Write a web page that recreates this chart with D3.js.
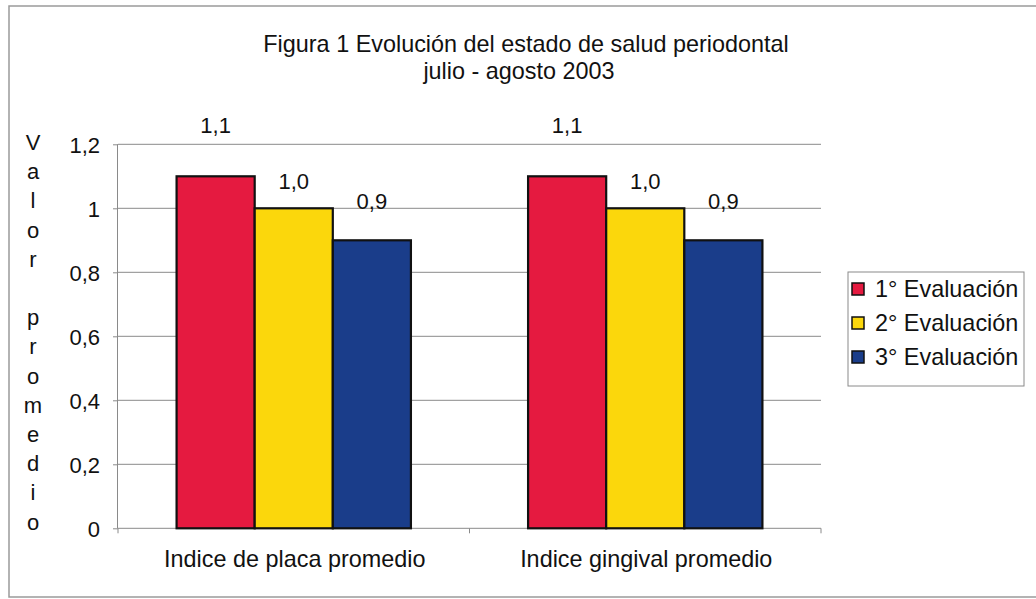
<!DOCTYPE html>
<html>
<head>
<meta charset="utf-8">
<script src="https://cdn.jsdelivr.net/npm/d3@7"></script>
<style>
	body { margin: 0; background: #fff; }
	svg { display: block; font-family: 'Liberation Sans', Arial, sans-serif; }
	.grid line { stroke: #8a8a8a; stroke-width: 1; }
	.axis path, .axis line { stroke: #8a8a8a; }
	.axis text { fill: #111; font-size: 22px; }
</style>
</head>
<body>
<svg width="1036" height="599"></svg>
<script>
// data
const categories = ['Indice de placa promedio', 'Indice gingival promedio']
const series = ['1° Evaluación', '2° Evaluación', '3° Evaluación']
const values = [
	[1.1, 1.0, 0.9],
	[1.1, 1.0, 0.9],
]
const valueLabels = [
	['1,1', '1,0', '0,9'],
	['1,1', '1,0', '0,9'],
]
const yTicks = [0, 0.2, 0.4, 0.6, 0.8, 1, 1.2]
const titleLines = ['Figura 1 Evolución del estado de salud periodontal', 'julio - agosto 2003']
const yTitle = 'Valor promedio'

// styles
const colors = ['#e51a40', '#fbd70c', '#1a3d8a']
const labelOffset = [43, 19, 31]
const bigFont = 23.4

const svg = d3.select('svg')

// frame of the scanned chart
svg.append('rect')
	.attr('x', 9).attr('y', 6)
	.attr('width', 1060).attr('height', 591)
	.attr('fill', 'none')
	.attr('stroke', '#9a9a9a')
	.attr('stroke-width', 1.5)

const margin = { left: 118, right: 821, top: 144.3, bottom: 528.3 }

const x0 = d3.scaleBand()
	.domain(categories)
	.range([margin.left, margin.right])

const gap = x0.bandwidth() / 6
const x1 = d3.scaleBand()
	.domain(series)
	.range([gap, x0.bandwidth() - gap])

const y = d3.scaleLinear()
	.domain([0, 1.2])
	.range([margin.bottom, margin.top])

// gridlines
svg.append('g')
	.attr('class', 'grid')
	.selectAll('line')
	.data(yTicks.filter(d => d > 0))
	.join('line')
		.attr('x1', margin.left)
		.attr('x2', margin.right)
		.attr('y1', d => y(d))
		.attr('y2', d => y(d))

// y axis
const fmt = d => d === 0 || d === 1 ? String(d) : d3.format('.1f')(d).replace('.', ',')
svg.append('g')
	.attr('class', 'axis axis--y')
	.attr('transform', `translate(${margin.left},0)`)
	.call(d3.axisLeft(y).tickValues(yTicks).tickFormat(fmt).tickSize(5).tickPadding(13))
	.call(g => g.select('.domain').attr('d', `M-0.5,${margin.top}V${margin.bottom}`))
	.selectAll('text').attr('dy', '0.36em')

// x axis
const xAxis = svg.append('g')
	.attr('class', 'axis axis--x')
	.attr('transform', `translate(0,${margin.bottom})`)
xAxis.append('line')
	.attr('x1', margin.left).attr('x2', margin.right)
xAxis.selectAll('.tick')
	.data([margin.left, ...categories.map(c => x0(c) + x0.bandwidth())])
	.join('line')
		.attr('class', 'tick')
		.attr('x1', d => d).attr('x2', d => d)
		.attr('y1', 0).attr('y2', 5)
xAxis.selectAll('text')
	.data(categories)
	.join('text')
		.attr('x', d => x0(d) + x0.bandwidth() / 2 + 1)
		.attr('y', 39)
		.attr('text-anchor', 'middle')
		.style('font-size', bigFont + 'px')
		.text(d => d)

// bars
const groups = svg.append('g')
	.selectAll('g')
	.data(categories)
	.join('g')
		.attr('transform', d => `translate(${x0(d)},0)`)

groups.selectAll('rect')
	.data((c, i) => values[i].map((v, j) => ({ v, j })))
	.join('rect')
		.attr('x', d => x1(series[d.j]))
		.attr('y', d => y(d.v))
		.attr('width', x1.bandwidth())
		.attr('height', d => y(0) - y(d.v))
		.attr('fill', d => colors[d.j])
		.attr('stroke', '#111')
		.attr('stroke-width', 2.2)

groups.selectAll('text')
	.data((c, i) => values[i].map((v, j) => ({ v, j, label: valueLabels[i][j] })))
	.join('text')
		.attr('x', d => x1(series[d.j]) + x1.bandwidth() / 2)
		.attr('y', d => y(d.v) - labelOffset[d.j])
		.attr('text-anchor', 'middle')
		.attr('font-size', 22)
		.attr('fill', '#111')
		.text(d => d.label)

// title
svg.append('text')
	.attr('y', 52)
	.attr('text-anchor', 'middle')
	.attr('font-size', bigFont)
	.attr('fill', '#111')
	.selectAll('tspan')
	.data(titleLines)
	.join('tspan')
		.attr('x', (d, i) => i ? 519 : 526)
		.attr('dy', (d, i) => i ? 27 : 0)
		.text(d => d)

// stacked y title
svg.append('text')
	.attr('x', 33)
	.attr('y', 150)
	.attr('text-anchor', 'middle')
	.attr('font-size', 22)
	.attr('fill', '#111')
	.selectAll('tspan')
	.data(yTitle.split(''))
	.join('tspan')
		.attr('x', 33)
		.attr('dy', (d, i) => i ? 29.2 : 0)
		.text(d => d === ' ' ? '\u00a0' : d)

// legend
const legend = svg.append('g')
	.attr('transform', 'translate(848,272)')

legend.append('rect')
	.attr('width', 176)
	.attr('height', 114)
	.attr('fill', '#fff')
	.attr('stroke', '#8a8a8a')

const entries = legend.selectAll('g')
	.data(series)
	.join('g')
		.attr('transform', (d, i) => `translate(4,${17 + i * 34})`)

entries.append('rect')
	.attr('y', -6)
	.attr('width', 12)
	.attr('height', 12)
	.attr('fill', (d, i) => colors[i])
	.attr('stroke', '#111')
	.attr('stroke-width', 1.5)

entries.append('text')
	.attr('x', 23)
	.attr('dy', '0.36em')
	.attr('font-size', bigFont)
	.attr('fill', '#111')
	.text(d => d)
</script>
</body>
</html>
